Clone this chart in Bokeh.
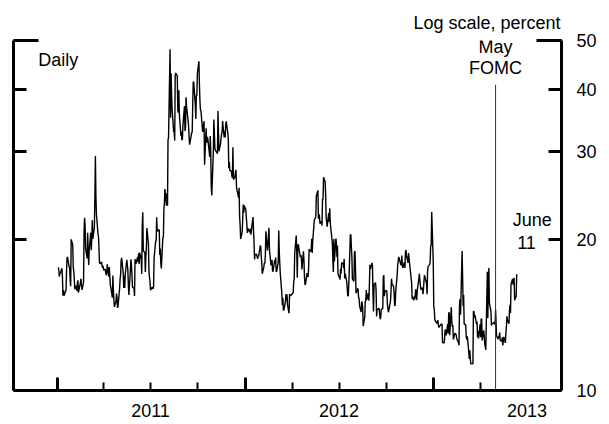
import datetime as dt
import numpy as np
import pandas as pd
from bokeh.plotting import figure
from bokeh.models import (FixedTicker, LogAxis, DatetimeAxis, Label, Title,
                          CustomJSTickFormatter, Range1d, ColumnDataSource)
from bokeh.embed import file_html
from bokeh.resources import INLINE

# ---------------- data: daily implied volatility (percent), by month ----------------
v2011_01 = [17.61, 17.38, 16.89, 17.14, 17.14, 17.54, 16.89, 15.46, 15.87, 15.46, 15.87, 17.36, 18.42, 18.47, 17.65, 17.59, 16.64, 16.15, 20.04, 19.53]
v2011_02 = [17.63, 17.30, 16.69, 15.93, 16.19, 15.81, 16.37, 16.60, 15.69, 16.43, 16.72, 16.23, 15.88, 16.43, 20.80, 22.13, 21.32, 19.22, 18.35]
v2011_03 = [20.66, 19.06, 17.82, 19.06, 20.66, 19.07, 20.22, 21.88, 20.08, 21.13, 24.32, 29.40, 24.41, 22.51, 20.61, 20.25, 19.17, 18.00, 17.91, 18.06, 17.73, 17.59, 17.74]
v2011_04 = [17.40, 17.48, 17.22, 16.99, 17.11, 17.87, 16.88, 17.65, 16.92, 16.27, 15.32, 16.96, 15.83, 15.07, 14.69, 15.07, 15.62, 15.32, 14.62, 14.75]
v2011_05 = [15.99, 16.70, 17.08, 18.20, 18.40, 17.16, 16.03, 16.95, 16.03, 17.07, 18.24, 17.42, 16.23, 15.52, 17.43, 18.27, 17.82, 17.07, 16.09, 15.98, 15.45]
v2011_06 = [18.30, 17.95, 17.95, 18.49, 18.07, 18.79, 17.90, 18.86, 18.26, 17.08, 21.32, 22.70, 18.99, 18.86, 17.25, 18.52, 19.29, 21.10, 19.61, 17.27, 16.85, 16.52]
v2011_07 = [15.87, 16.06, 16.05, 15.95, 16.15, 18.39, 19.87, 19.91, 22.18, 20.80, 20.95, 18.65, 19.21, 17.97, 17.52, 20.23, 20.23, 22.98, 23.74, 25.25]
v2011_08 = [23.38, 24.79, 23.38, 31.66, 32.00, 48.00, 35.06, 42.99, 39.00, 36.36, 32.85, 32.88, 31.58, 42.67, 43.05, 42.44, 36.27, 35.90, 39.76, 35.59, 32.28, 32.89, 31.62]
v2011_09 = [31.82, 33.92, 37.00, 33.00, 33.50, 38.52, 36.91, 34.60, 33.71, 31.97, 30.98, 32.73, 32.86, 37.32, 41.35, 41.25, 37.20, 34.84, 38.84, 38.84, 42.96]
v2011_10 = [45.45, 40.82, 37.81, 36.27, 36.20, 33.04, 32.86, 33.97, 34.50, 28.24, 33.39, 31.26, 32.00, 32.00, 31.32, 29.26, 32.22, 29.86, 25.46, 24.53, 29.96]
v2011_11 = [34.77, 32.74, 30.50, 30.16, 29.85, 29.71, 36.16, 32.81, 30.04, 31.13, 32.00, 32.91, 34.51, 32.00, 32.91, 32.00, 33.98, 34.47, 32.73, 31.91, 27.80]
v2011_12 = [28.63, 27.52, 27.41, 26.84, 26.60, 30.59, 26.38, 26.70, 27.33, 27.58, 25.41, 24.29, 25.41, 22.22, 21.43, 20.07, 20.73, 21.91, 23.52, 22.65, 23.40]
v2012_01 = [22.97, 22.22, 21.48, 20.63, 21.07, 20.69, 21.05, 20.47, 20.91, 22.20, 20.89, 19.87, 18.28, 18.67, 18.72, 18.31, 18.57, 18.53, 19.44, 19.44]
v2012_02 = [18.56, 17.98, 17.10, 17.63, 17.96, 17.94, 18.63, 20.79, 19.04, 19.54, 21.14, 19.07, 17.78, 18.19, 18.19, 17.31, 17.31, 18.19, 17.95, 18.43]
v2012_03 = [17.26, 17.29, 18.05, 20.87, 18.95, 17.95, 17.11, 15.64, 14.80, 15.31, 14.47, 14.47, 15.04, 15.58, 15.13, 15.57, 14.82, 14.26, 15.59, 15.47, 15.48, 15.50]
v2012_04 = [15.64, 15.66, 16.44, 16.70, 18.81, 20.39, 18.86, 16.80, 19.55, 19.55, 18.46, 18.64, 18.36, 17.44, 18.97, 18.10, 16.82, 16.24, 16.32, 17.15]
v2012_05 = [16.88, 16.88, 17.56, 19.16, 18.94, 19.05, 20.08, 18.83, 19.89, 21.87, 21.97, 22.27, 24.49, 25.10, 22.01, 22.48, 22.33, 21.54, 21.76, 21.35, 24.14, 24.06]
v2012_06 = [26.66, 26.12, 24.68, 22.16, 21.72, 21.23, 22.62, 21.73, 23.11, 21.68, 21.11, 19.75, 18.38, 17.24, 20.08, 18.11, 20.11, 19.72, 18.45, 19.45, 17.08]
v2012_07 = [16.80, 16.66, 17.50, 17.10, 17.98, 17.95, 17.56, 18.33, 16.74, 17.11, 16.50, 15.45, 15.45, 16.27, 20.47, 20.47, 19.34, 18.53, 16.70, 16.52, 18.93]
v2012_08 = [18.96, 17.57, 15.64, 15.95, 15.99, 15.32, 15.28, 14.74, 14.35, 15.06, 14.96, 14.64, 13.45, 14.02, 15.07, 15.11, 15.88, 15.18, 15.65, 15.11, 16.28, 17.83, 17.47]
v2012_09 = [17.98, 17.74, 15.60, 14.38, 16.28, 16.41, 15.80, 14.05, 14.51, 14.59, 14.18, 13.88, 13.98, 14.51, 14.59, 16.82, 17.00, 15.43, 15.73]
v2012_10 = [15.87, 15.71, 14.84, 14.55, 14.33, 15.12, 15.78, 16.72, 16.30, 16.14, 15.66, 14.77, 14.78, 15.70, 17.06, 17.85, 18.48, 18.33, 17.83, 17.81, 18.60]
v2012_11 = [17.69, 17.59, 18.04, 17.57, 18.87, 19.08, 18.61, 17.98, 18.81, 18.39, 17.97, 16.41, 15.24, 15.39, 15.31, 15.14, 15.50, 15.92, 15.20, 15.20, 15.87]
v2012_12 = [16.69, 17.11, 16.58, 16.25, 15.90, 16.05, 15.58, 15.95, 16.56, 17.00, 16.34, 15.57, 17.36, 17.67, 17.84, 18.08, 19.47, 19.47, 22.72, 18.02]
v2013_01 = [14.68, 14.56, 13.83, 13.79, 13.62, 13.81, 13.49, 13.36, 13.52, 13.55, 13.57, 13.57, 12.46, 12.43, 12.69, 13.24, 12.89, 13.57, 12.98, 14.32, 14.28]
v2013_02 = [12.90, 14.67, 13.72, 13.41, 13.52, 12.64, 13.02, 12.94, 12.98, 12.66, 12.46, 12.31, 14.88, 15.22, 14.17, 18.99, 16.87, 14.73, 15.51]
v2013_03 = [13.57, 13.53, 12.81, 12.64, 12.83, 12.59, 11.56, 12.03, 11.53, 11.30, 11.30, 14.39, 14.39, 13.99, 14.15, 13.57, 13.74, 12.77, 13.15, 12.70]
v2013_04 = [13.58, 12.78, 13.89, 13.89, 12.59, 13.19, 12.84, 12.36, 12.24, 12.06, 17.27, 13.96, 16.51, 17.56, 14.97, 14.39, 13.48, 13.61, 13.62, 13.61, 13.71, 13.52]
v2013_05 = [14.49, 13.59, 12.85, 12.66, 12.83, 12.78, 13.06, 12.59, 12.55, 12.77, 12.31, 12.80, 12.45, 13.02, 13.37, 14.07, 13.82, 13.59, 14.48, 14.83, 14.28, 16.30]
v2013_06 = [16.71, 16.27, 16.68, 16.77, 15.14, 15.44, 17.07]

monthly = [
    ((2011, 1), v2011_01), ((2011, 2), v2011_02), ((2011, 3), v2011_03), ((2011, 4), v2011_04),
    ((2011, 5), v2011_05), ((2011, 6), v2011_06), ((2011, 7), v2011_07), ((2011, 8), v2011_08),
    ((2011, 9), v2011_09), ((2011, 10), v2011_10), ((2011, 11), v2011_11), ((2011, 12), v2011_12),
    ((2012, 1), v2012_01), ((2012, 2), v2012_02), ((2012, 3), v2012_03), ((2012, 4), v2012_04),
    ((2012, 5), v2012_05), ((2012, 6), v2012_06), ((2012, 7), v2012_07), ((2012, 8), v2012_08),
    ((2012, 9), v2012_09), ((2012, 10), v2012_10), ((2012, 11), v2012_11), ((2012, 12), v2012_12),
    ((2013, 1), v2013_01), ((2013, 2), v2013_02), ((2013, 3), v2013_03), ((2013, 4), v2013_04),
    ((2013, 5), v2013_05), ((2013, 6), v2013_06),
]
last_day = dt.date(2013, 6, 11)

y_ticks = [10, 20, 30, 40, 50]
year_labels = [2011, 2012, 2013]
fomc_date = dt.datetime(2013, 5, 1)

# ---------------- build daily dates (business days of each month) ----------------
dates, vals = [], []
for (yr, mo), arr in monthly:
    start = pd.Timestamp(yr, mo, 1)
    end = start + pd.offsets.MonthEnd(0)
    if (yr, mo) == (last_day.year, last_day.month):
        end = pd.Timestamp(last_day)
    bd = pd.bdate_range(start, end)
    idx = np.round(np.linspace(0, len(bd) - 1, len(arr))).astype(int)
    dates.extend(bd[idx])
    vals.extend(arr)

src = ColumnDataSource(dict(date=pd.to_datetime(dates), v=vals))

def ms(d):
    return pd.Timestamp(d).value / 1e6

FONT = "Liberation Sans"
FS = "18px"

x_start = dt.datetime(2010, 10, 8)
x_end = dt.datetime(2013, 9, 6)

p = figure(width=609, height=424, x_axis_type="datetime", y_axis_type="log",
           x_range=Range1d(x_start, x_end), y_range=Range1d(10, 50),
           output_backend="svg", toolbar_location=None,
           min_border_left=13, min_border_right=48, min_border_top=40, min_border_bottom=34)
p.outline_line_color = None
p.xgrid.visible = False
p.ygrid.visible = False
p.background_fill_color = "white"
p.border_fill_color = "white"

p.line(x="date", y="v", source=src, line_color="black", line_width=1.4)

# FOMC event line
fomc_top = 40.8
p.segment(x0=[fomc_date], y0=[10], x1=[fomc_date], y1=[fomc_top],
          line_color="#333333", line_width=1)

blank = CustomJSTickFormatter(code="return ''")

# bottom axis: quarterly short ticks, long ticks at year starts
quarter_ticks = [ms(d) for d in ["2011-04-01", "2011-07-01", "2011-10-01",
                                 "2012-04-01", "2012-07-01", "2012-10-01", "2013-04-01"]]
year_ticks = [ms(d) for d in ["2011-01-01", "2012-01-01", "2013-01-01"]]
xa = p.xaxis[0]
xa.ticker = FixedTicker(ticks=quarter_ticks, minor_ticks=year_ticks)
xa.formatter = blank
xa.major_label_text_font_size = "1px"
xa.major_label_standoff = 0
xa.axis_line_width = 3
xa.major_tick_in = 8
xa.major_tick_out = 0
xa.minor_tick_in = 13
xa.minor_tick_out = 0
xa.major_tick_line_width = 2
xa.minor_tick_line_width = 3

# second bottom axis carrying only the year labels (mid-year)
mid_year = [ms(f"{y}-07-01") for y in year_labels]
xb = DatetimeAxis(ticker=FixedTicker(ticks=mid_year, minor_ticks=[]),
                  formatter=CustomJSTickFormatter(code="return String(new Date(tick).getUTCFullYear())"))
xb.axis_line_color = None
xb.major_tick_line_color = None
xb.minor_tick_line_color = None
xb.major_tick_in = 0
xb.major_tick_out = 0
xb.major_label_standoff = 13
xb.major_label_text_font = FONT
xb.major_label_text_font_size = FS
xb.major_label_text_color = "black"
p.add_layout(xb, "below")

ya = p.yaxis[0]
ya.ticker = FixedTicker(ticks=y_ticks, minor_ticks=[50])
ya.formatter = blank
ya.major_label_text_font_size = "1px"
ya.major_label_standoff = 0
ya.axis_line_width = 3
ya.major_tick_in = 13
ya.major_tick_out = 0
ya.minor_tick_in = 25
ya.minor_tick_out = 0
ya.major_tick_line_width = 3
ya.minor_tick_line_width = 3

ra = LogAxis(ticker=FixedTicker(ticks=y_ticks, minor_ticks=[50]),
             formatter=CustomJSTickFormatter(code="return Math.round(tick).toString()"))
ra.axis_line_width = 3
ra.major_tick_in = 13
ra.major_tick_out = 0
ra.minor_tick_in = 25
ra.minor_tick_out = 0
ra.major_tick_line_width = 3
ra.minor_tick_line_width = 3
ra.major_label_standoff = 15
ra.major_label_text_font = FONT
ra.major_label_text_font_size = FS
ra.major_label_text_color = "black"
p.add_layout(ra, "right")

# unit note above the plot area, right aligned
p.add_layout(Title(text="Log scale, percent", align="right", offset=1, standoff=15,
                   text_font=FONT, text_font_size=FS, text_font_style="normal",
                   text_color="black"), "above")

def lab(x, y, text, align="center"):
    p.add_layout(Label(x=x, y=y, text=text, text_font=FONT, text_font_size=FS,
                       text_align=align, text_baseline="alphabetic", text_color="black"))

lab(ms("2010-11-25"), 45.7, "Daily", "left")
lab(ms(fomc_date), 48.5, "May")
lab(ms(fomc_date), 44.1, "FOMC")
lab(ms("2013-07-11"), 21.88, "June")
lab(ms("2013-06-30"), 19.75, "11")

open("out.html", "w").write(file_html(p, INLINE))
